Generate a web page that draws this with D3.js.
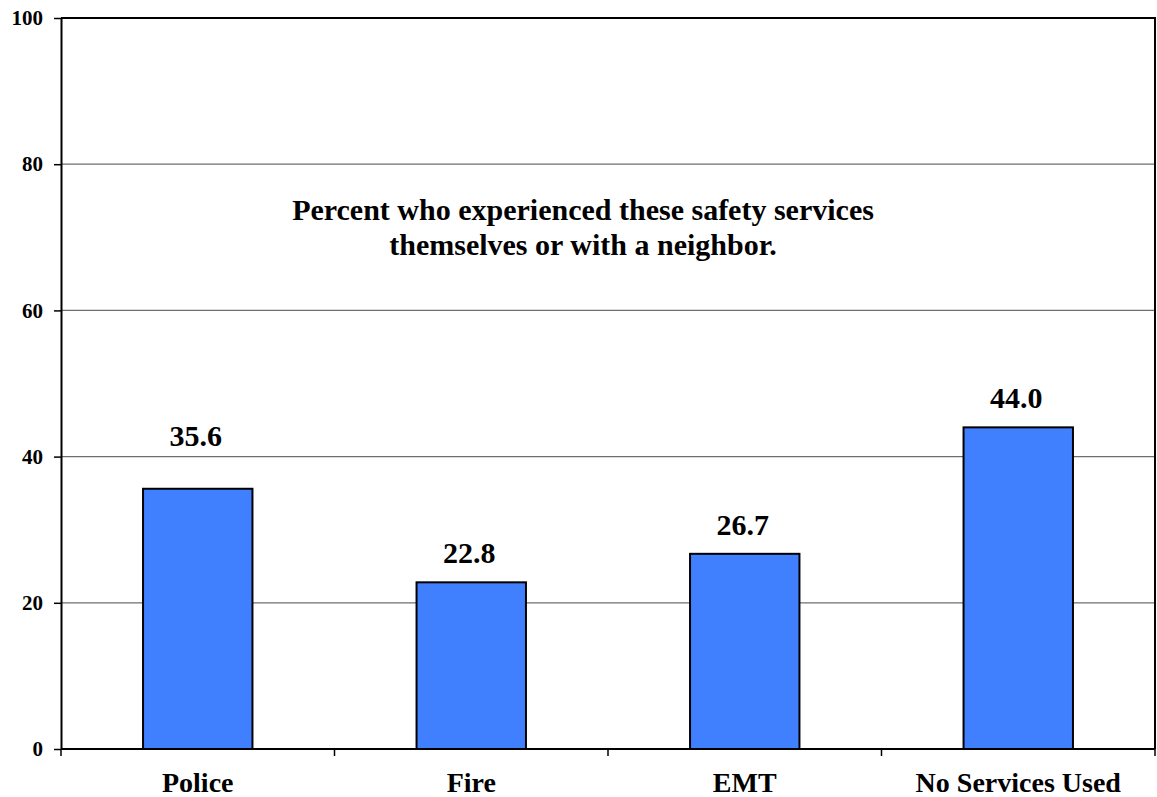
<!DOCTYPE html>
<html><head><meta charset="utf-8">
<script src="https://cdn.jsdelivr.net/npm/d3@7"></script>
<style>html,body{margin:0;padding:0;background:#fff;}svg{display:block;}svg text{font-family:"Liberation Serif","Times New Roman",Tinos,serif !important;font-weight:bold;fill:#000;}</style>
</head><body><svg id="c" width="1157" height="797"></svg>
<script>
const categories = ["Police", "Fire", "EMT", "No Services Used"];
const values = [35.6, 22.8, 26.7, 44.0];
const valueLabels = ["35.6", "22.8", "26.7", "44.0"];
const yTicks = [0, 20, 40, 60, 80, 100];
const titleLines = ["Percent who experienced these safety services", "themselves or with a neighbor."];

const svg = d3.select("#c");
const L = 61, R = 1155, T = 18, B = 749;
const x = d3.scaleBand().domain(categories).range([L, R]).paddingInner(0.6).paddingOuter(0.3);
const xb = d3.scaleBand().domain(categories).range([L, R]);
const y = d3.scaleLinear().domain([0, 100]).range([B, T]);

// gridlines
svg.append("g").selectAll("line").data(yTicks.filter(d => d > 0 && d < 100)).join("line")
  .attr("x1", L).attr("x2", R).attr("y1", d => y(d)).attr("y2", d => y(d))
  .attr("stroke", "#6e6e6e").attr("stroke-width", 1.3);

// frame top & right
svg.append("line").attr("x1", L).attr("x2", R + 1).attr("y1", y(100)).attr("y2", y(100)).attr("stroke", "#000").attr("stroke-width", 2);
svg.append("line").attr("x1", R).attr("x2", R).attr("y1", y(100)).attr("y2", B).attr("stroke", "#000").attr("stroke-width", 2);

// bars
svg.append("g").selectAll("rect").data(values).join("rect")
  .attr("x", (d, i) => x(categories[i])).attr("width", x.bandwidth())
  .attr("y", d => y(d)).attr("height", d => B - y(d))
  .attr("fill", "#4080ff").attr("stroke", "#000").attr("stroke-width", 2);

// y axis
const yAxis = d3.axisLeft(y).tickValues(yTicks).tickSize(7).tickSizeOuter(0).tickPadding(11);
const gy = svg.append("g").attr("transform", `translate(${L},0)`).call(yAxis);
gy.attr("font-family", null);
gy.select(".domain").attr("stroke-width", 2);
gy.selectAll(".tick line").attr("stroke-width", 1.5);
gy.selectAll(".tick text").style("font-size", "21px").attr("fill", "#000");

// x axis line and ticks at band boundaries
svg.append("line").attr("x1", L).attr("x2", R).attr("y1", B).attr("y2", B).attr("stroke", "#000").attr("stroke-width", 2);
const bounds = categories.map(c => xb(c)).concat([R]);
svg.append("g").selectAll("line").data(bounds).join("line")
  .attr("x1", d => d).attr("x2", d => d).attr("y1", B).attr("y2", B + 7)
  .attr("stroke", "#000").attr("stroke-width", 1.5);
svg.append("g").selectAll("text").data(categories).join("text")
  .attr("x", d => xb(d) + xb.bandwidth() / 2).attr("y", 792)
  .attr("text-anchor", "middle").style("font-size", "28px").text(d => d);

// value labels
const labelNudge = [24, 0, 0, 0];
svg.append("g").selectAll("text").data(values).join("text")
  .attr("x", (d, i) => x(categories[i]) + x.bandwidth() / 2 - 2)
  .attr("y", (d, i) => y(d) - 19 - labelNudge[i])
  .attr("text-anchor", "middle").style("font-size", "30px").text((d, i) => valueLabels[i]);

// title
svg.append("g").selectAll("text").data(titleLines).join("text")
  .attr("x", 583).attr("y", (d, i) => 220 + i * 35)
  .attr("text-anchor", "middle").style("font-size", "30px").text(d => d);
</script></body></html>
